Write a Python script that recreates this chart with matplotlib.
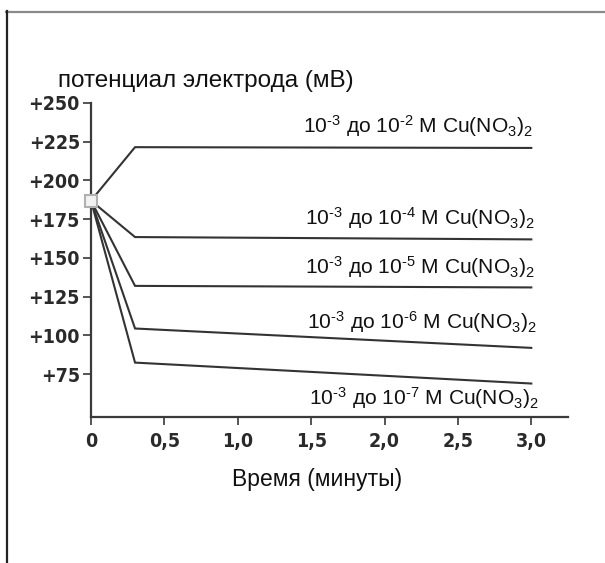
import matplotlib
matplotlib.use("Agg")
import matplotlib.pyplot as plt
from matplotlib.lines import Line2D

# ── Data ─────────────────────────────────────────────────────────────────────
times = [0, 0.3, 3.0]
start_mv = 187
series = {
    "-2": [187, 221.5, 221],
    "-4": [187, 163.5, 162],
    "-5": [187, 132, 131],
    "-6": [187, 104.5, 92],
    "-7": [187, 82.5, 69],
}
label_y = [231, 171.5, 140, 104.5, 55.5]
label_x = [1.445, 1.458, 1.458, 1.472, 1.485]

x_ticks = [0, 0.5, 1.0, 1.5, 2.0, 2.5, 3.0]
x_ticklabels = ["0", "0,5", "1,0", "1,5", "2,0", "2,5", "3,0"]
y_ticks = [75, 100, 125, 150, 175, 200, 225, 250]
y_ticklabels = ["+75", "+100", "+125", "+150", "+175", "+200", "+225", "+250"]

TEXT_FONT = ["Liberation Sans", "DejaVu Sans"]
TICK_FONT = ["DejaVu Sans"]
plt.rcParams["mathtext.fontset"] = "custom"
plt.rcParams["mathtext.rm"] = "Liberation Sans"
plt.rcParams["mathtext.it"] = "Liberation Sans"

# ── Plot ──────────────────────────────────────────────────────────────────────
fig = plt.figure(figsize=(6.05, 5.63), dpi=100)
fig.patch.set_facecolor("white")
ax = fig.add_axes([91 / 605, 1 - 417 / 563, 477 / 605, 314 / 563])

for key, vals in series.items():
    ax.plot(times, vals, color="#333333", lw=1.5, zorder=3,
            solid_joinstyle="miter")

ax.plot([0], [start_mv], marker="s", markersize=8, markerfacecolor="#f2f2f2",
        markeredgecolor="#b0b0b0", markeredgewidth=1.5, zorder=5, clip_on=False)

for (key, vals), lx, ly in zip(series.items(), label_x, label_y):
    ax.text(lx, ly, r"10$^{\mathregular{" + "\u2010" + "3}}$ до 10$^{\mathregular{"
            + "\u2010" + key[1:] +
            r"}}$ M Cu(NO$_{\mathregular{3}}$)$_{\mathregular{2}}$",
            fontsize=15.1, family=TEXT_FONT, color="#111111",
            ha="left", va="baseline")

ax.set_xlim(0, 3.25)
ax.set_ylim(47.4, 250)
for s in ["top", "right"]:
    ax.spines[s].set_visible(False)
for s in ["left", "bottom"]:
    ax.spines[s].set_color("#3a3a3a")
    ax.spines[s].set_linewidth(1.6)

ax.set_xticks(x_ticks)
ax.set_xticklabels(x_ticklabels, fontsize=14, fontweight="bold",
                   fontstretch="condensed", family=TICK_FONT, color="#2a2a2a")
ax.set_yticks(y_ticks)
ax.set_yticklabels(y_ticklabels, fontsize=14, fontweight="bold",
                   fontstretch="condensed", family=TICK_FONT, color="#2a2a2a")
ax.tick_params(axis="both", length=6, width=1.4, color="#555555", pad=5)
ax.tick_params(axis="y", pad=2)

ax.set_xlabel("Время (минуты)", fontsize=16.5, family=TEXT_FONT,
              color="#111111")
ax.xaxis.set_label_coords(0.474, -0.162)
ax.text(-0.225, 260.4, "потенциал электрода (мВ)", fontsize=17.5,
        family=TEXT_FONT, color="#111111", ha="left", va="baseline")

# frame lines of the original figure (top and left)
fig.add_artist(Line2D([6 / 605, 1], [1 - 11.5 / 563, 1 - 11.5 / 563],
                      color="#8a8a8a", lw=1.6, transform=fig.transFigure))
fig.add_artist(Line2D([6.5 / 605, 6.5 / 605], [0, 1 - 11 / 563],
                      color="#222222", lw=1.6, transform=fig.transFigure))

plt.savefig("out.png", dpi=100)
